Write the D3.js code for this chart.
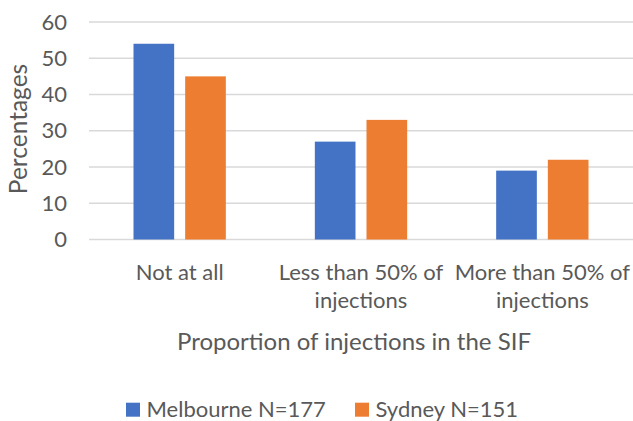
<!DOCTYPE html>
<html lang="en">
<head>
<meta charset="UTF-8">
<title>Proportion of injections in the SIF</title>
<script src="https://cdn.jsdelivr.net/npm/d3@7/dist/d3.min.js"></script>
<style>
  body { margin: 0; background: #fff; overflow: hidden; }
  svg { display: block; }
  text { font-family: Lato, "Open Sans", sans-serif; fill: #595959; }
</style>
</head>
<body>
<div id="box"></div>
<script>
// data
const categories = ["Not at all", "Less than 50% of\ninjections", "More than 50% of\ninjections"];
const seriesNames = ["Melbourne N=177", "Sydney N=151"];
const melbourne = [54, 27, 19];
const sydney = [45, 33, 22];
const yTicks = [0, 10, 20, 30, 40, 50, 60];
const colors = ["#4472C4", "#ED7D31"];

const width = 633, height = 421;
const svg = d3.select("#box").append("svg")
  .attr("width", width).attr("height", height);

const margin = {top: 22, right: 0, bottom: 181.5, left: 89};
const innerWidth = width - margin.left - margin.right;
const innerHeight = height - margin.top - margin.bottom;

const g = svg.append("g")
  .attr("transform", `translate(${margin.left},${margin.top})`);

// scales
const x0 = d3.scaleBand().domain(categories).range([0, innerWidth]);
const x1 = d3.scaleBand().domain(seriesNames)
  .range([44.5, x0.bandwidth() - 44.5])
  .paddingInner(0.213);
const y = d3.scaleLinear().domain([0, 60]).range([innerHeight, 0]);

// gridlines
g.append("g").selectAll("line").data(yTicks).join("line")
  .attr("x1", 0).attr("x2", innerWidth)
  .attr("y1", d => y(d)).attr("y2", d => y(d))
  .attr("stroke", "#d9d9d9").attr("stroke-width", 1.5);

// y axis
const yAxis = d3.axisLeft(y).tickValues(yTicks).tickSize(0).tickPadding(22);
const yg = g.append("g").call(yAxis);
yg.select(".domain").remove();
yg.selectAll("text").attr("font-size", "22px").style("fill", "#595959")
  .attr("font-family", "Lato");

// bars
const rows = categories.map((c, i) => ({cat: c, vals: [melbourne[i], sydney[i]]}));
g.append("g").selectAll("g").data(rows).join("g")
  .attr("transform", d => `translate(${x0(d.cat)},0)`)
  .selectAll("rect").data(d => d.vals.map((v, j) => ({name: seriesNames[j], value: v, j})))
  .join("rect")
  .attr("x", d => x1(d.name))
  .attr("width", x1.bandwidth())
  .attr("y", d => y(d.value))
  .attr("height", d => innerHeight - y(d.value))
  .attr("fill", d => colors[d.j]);

// x axis labels (two lines)
const xAxis = d3.axisBottom(x0).tickSize(0);
const xg = g.append("g").attr("transform", `translate(0,${innerHeight})`).call(xAxis);
xg.select(".domain").remove();
xg.selectAll(".tick text").each(function(d) {
  const t = d3.select(this).text(null)
    .attr("y", null).attr("dy", null)
    .attr("font-size", "22px")
    .attr("font-family", "Lato")
    .style("fill", "#595959");
  d.split("\n").forEach((line, i) => {
    t.append("tspan").attr("x", 0).attr("y", 40.5 + i * 28).text(line);
  });
});

// axis titles
svg.append("text")
  .attr("transform", "translate(27,129) rotate(-90)")
  .attr("text-anchor", "middle")
  .attr("font-size", "24.5px")
  .text("Percentages");

svg.append("text")
  .attr("x", 354).attr("y", 350)
  .attr("text-anchor", "middle")
  .attr("font-size", "24px")
  .text("Proportion of injections in the SIF");

// legend
const legendX = [126, 355];
const legend = svg.append("g").selectAll("g").data(seriesNames).join("g")
  .attr("transform", (d, i) => `translate(${legendX[i]},402.7)`);
legend.append("rect").attr("width", 14).attr("height", 14)
  .attr("fill", (d, i) => colors[i]);
legend.append("text").attr("x", 20.5).attr("y", 14)
  .attr("font-size", "22px").text(d => d);
</script>
</body>
</html>
